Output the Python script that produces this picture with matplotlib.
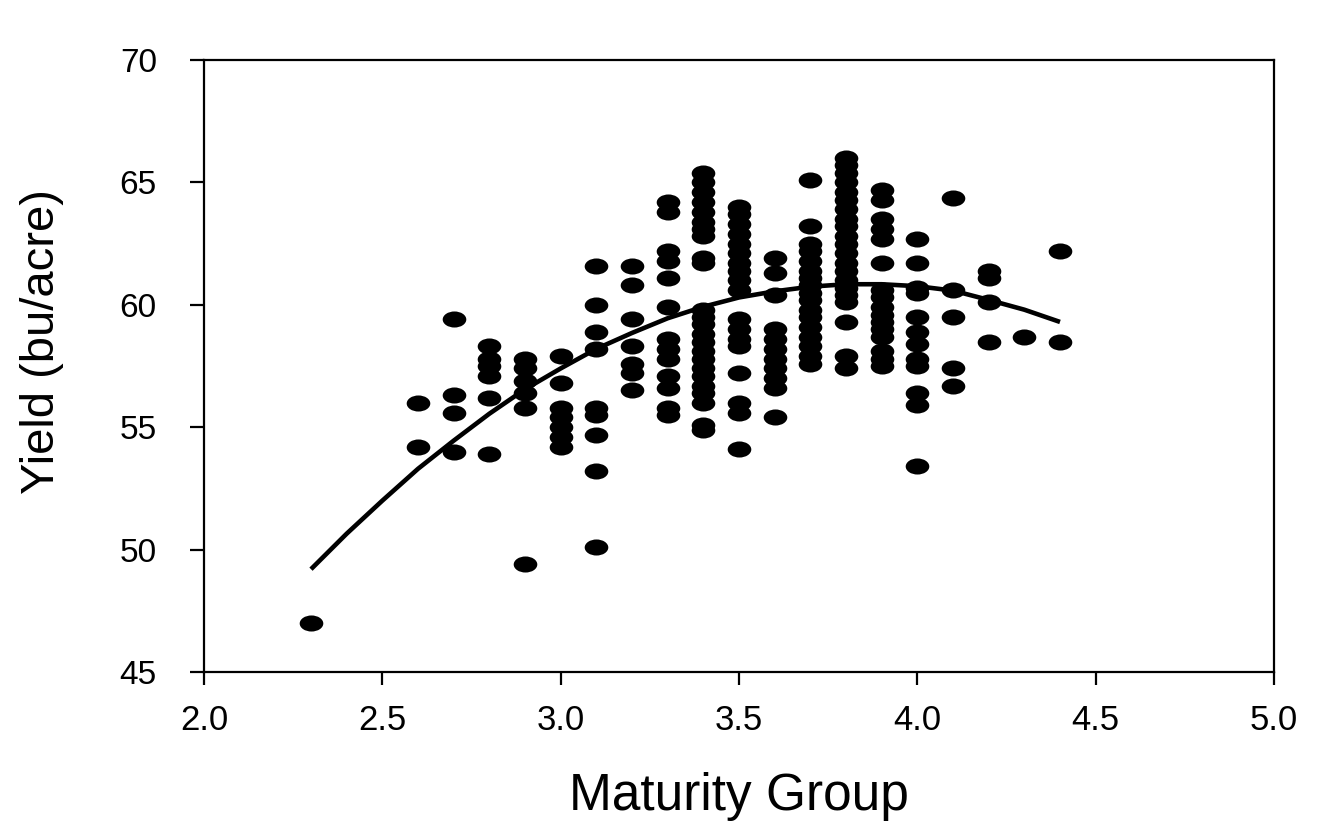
import matplotlib
matplotlib.use("Agg")
import matplotlib.pyplot as plt
from matplotlib.path import Path
from matplotlib.transforms import Affine2D

# maturity groups (x) and yields read for each group (bu/acre)
groups = [2.3, 2.6, 2.7, 2.8, 2.9, 3.0, 3.1, 3.2, 3.3, 3.4,
          3.5, 3.6, 3.7, 3.8, 3.9, 4.0, 4.1, 4.2, 4.3, 4.4]
yields = [
    [47.0],
    [56.0, 54.2],
    [59.4, 56.3, 55.6, 54.0],
    [58.3, 57.8, 57.5, 57.1, 56.2, 53.9],
    [57.8, 57.4, 56.9, 56.4, 55.8, 49.4],
    [57.9, 56.8, 55.8, 55.4, 55.0, 54.6, 54.2],
    [61.6, 60.0, 58.9, 58.2, 55.8, 55.5, 54.7, 53.2, 50.1],
    [61.6, 60.8, 59.4, 58.3, 57.6, 57.2, 56.5],
    [64.2, 63.8, 62.2, 61.8, 61.1, 59.9, 58.6, 58.2, 57.8, 57.1, 56.6, 55.8, 55.5],
    [65.4, 65.0, 64.6, 64.2, 63.8, 63.4, 63.1, 62.8, 61.9, 61.7,
     59.8, 59.5, 59.2, 58.8, 58.5, 58.1, 57.8, 57.4, 57.1, 56.7, 56.4, 56.0, 55.1, 54.9],
    [64.0, 63.7, 63.3, 62.9, 62.5, 62.1, 61.7, 61.4, 61.0, 60.6,
     59.4, 59.0, 58.6, 58.3, 57.2, 56.0, 55.6, 54.1],
    [61.9, 61.3, 60.4, 59.0, 58.6, 58.2, 57.8, 57.4, 57.0, 56.6, 55.4],
    [65.1, 63.2, 62.5, 62.2, 61.8, 61.4, 61.1, 60.8, 60.5, 60.2,
     59.8, 59.5, 59.1, 58.7, 58.3, 57.9, 57.6],
    [66.0, 65.7, 65.4, 65.0, 64.6, 64.3, 63.9, 63.5, 63.2, 62.8, 62.5,
     62.1, 61.7, 61.4, 61.0, 60.7, 60.4, 60.1, 59.3, 57.9, 57.4],
    [64.7, 64.3, 63.5, 63.1, 62.7, 61.7, 60.6, 60.3, 59.9, 59.6,
     59.3, 59.0, 58.7, 58.1, 57.8, 57.5],
    [62.7, 61.7, 60.7, 60.5, 59.5, 58.9, 58.4, 57.8, 57.5, 56.4, 55.9, 53.4],
    [64.35, 60.6, 59.5, 57.4, 56.7],
    [61.4, 61.1, 60.1, 58.5],
    [58.7],
    [62.2, 58.5],
]

# fitted curve
curve_x = [2.3, 2.4, 2.5, 2.6, 2.7, 2.8, 2.9, 3.0, 3.1, 3.2, 3.3,
           3.4, 3.5, 3.6, 3.7, 3.8, 3.9, 4.0, 4.1, 4.2, 4.3, 4.4]
curve_y = [49.2, 50.65, 52.0, 53.3, 54.45, 55.55, 56.55, 57.4, 58.2, 58.85, 59.45,
           59.92, 60.3, 60.55, 60.74, 60.84, 60.84, 60.76, 60.58, 60.2, 59.8, 59.3]

x_ticks = [2.0, 2.5, 3.0, 3.5, 4.0, 4.5, 5.0]
y_ticks = [45, 50, 55, 60, 65, 70]

FONT = ["Liberation Sans", "DejaVu Sans"]

fig = plt.figure(figsize=(13.36, 8.30), dpi=100)
ax = fig.add_axes([204 / 1336, 1 - 672 / 830, (1274 - 204) / 1336, (672 - 60) / 830])

# wide flat dots like the original
ellipse = Path.unit_circle().transformed(Affine2D().scale(1.0, 0.68))

xs, ys = [], []
for g, vals in zip(groups, yields):
    xs += [g] * len(vals)
    ys += vals
ax.plot(xs, ys, linestyle="none", marker=ellipse, markersize=17,
        color="black", markeredgewidth=0)

ax.plot(curve_x, curve_y, color="black", linewidth=3.3, solid_capstyle="butt")

ax.set_xlim(2.0, 5.0)
ax.set_ylim(45, 70)
ax.set_xticks(x_ticks)
ax.set_yticks(y_ticks)
ax.set_xticklabels([f"{t:.1f}" for t in x_ticks])
ax.set_yticklabels([str(t) for t in y_ticks])

for sp in ax.spines.values():
    sp.set_linewidth(1.6)
ax.tick_params(axis="both", direction="out", width=1.6, colors="black")
ax.tick_params(axis="x", length=9, pad=14, labelsize=25)
ax.tick_params(axis="y", length=10, pad=24, labelsize=24)
for lab in ax.get_xticklabels() + ax.get_yticklabels():
    lab.set_family(FONT)

ax.set_xlabel("Maturity Group", fontsize=37, family=FONT)
ax.set_ylabel("Yield (bu/acre)", fontsize=34, family=FONT)
ax.xaxis.set_label_coords(0.5, -0.163)
ax.yaxis.set_label_coords(-0.131, 0.54)

fig.savefig("out.png", dpi=100)
